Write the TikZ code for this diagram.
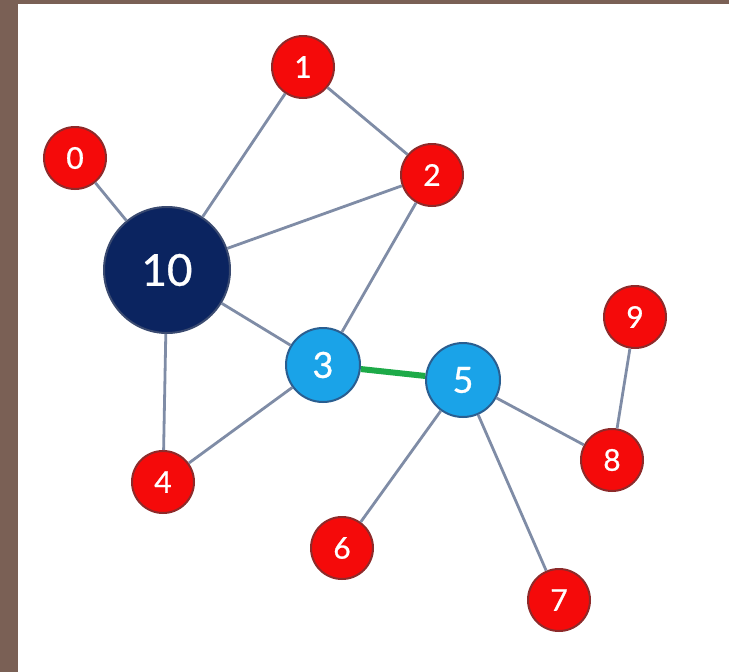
\documentclass[tikz,border=0pt]{standalone}
\usepackage{fontspec}
\setmainfont{Lato}
\newfontfamily\labelfont{Lato}[FakeBold=0.8]
\definecolor{bgbrown}{HTML}{7A6055}
\definecolor{nodered}{HTML}{F50A0A}
\definecolor{redborder}{HTML}{8E2A2A}
\definecolor{nodeblue}{HTML}{1AA3E8}
\definecolor{blueborder}{HTML}{2A5E90}
\definecolor{navy}{HTML}{0B2460}
\definecolor{navyborder}{HTML}{3A4A70}
\definecolor{edgegray}{HTML}{7F8CA6}
\definecolor{edgegreen}{HTML}{1DAA48}
\tikzset{
  rednode/.style={circle, fill=nodered, draw=redborder, line width=2pt, minimum size=62pt, inner sep=0pt, text=white, font=\labelfont\fontsize{30}{30}\selectfont},
  bluenode/.style={circle, fill=nodeblue, draw=blueborder, line width=2pt, minimum size=74pt, inner sep=0pt, text=white, font=\labelfont\fontsize{36}{36}\selectfont},
  bignode/.style={circle, fill=navy, draw=navyborder, line width=2pt, minimum size=126pt, inner sep=0pt, text=white, font=\labelfont\fontsize{44}{44}\selectfont},
  edge/.style={draw=edgegray, line width=2.8pt},
  greenedge/.style={draw=edgegreen, line width=6pt}
}
\begin{document}
\begin{tikzpicture}[x=1pt,y=-1pt]
\useasboundingbox (0,0) rectangle (729,672);
\fill[bgbrown] (0,0) rectangle (729,672);
\fill[white] (18,4) rectangle (729,672);
% nodes
\node[bignode] (n10) at (167,270) {10};
\node[rednode] (n0) at (75,158) {0};
\node[rednode] (n1) at (303,67) {1};
\node[rednode] (n2) at (432,175) {2};
\node[bluenode] (n3) at (323,365) {3};
\node[bluenode] (n5) at (463,380) {5};
\node[rednode] (n4) at (163,482) {4};
\node[rednode] (n6) at (342,548) {6};
\node[rednode] (n7) at (559,600) {7};
\node[rednode] (n8) at (612,460) {8};
\node[rednode] (n9) at (635,317) {9};
% edges
\path[edge] (n0) -- (n10);
\path[edge] (n1) -- (n10);
\path[edge] (n1) -- (n2);
\path[edge] (n2) -- (n10);
\path[edge] (n2) -- (n3);
\path[edge] (n10) -- (n3);
\path[edge] (n10) -- (n4);
\path[edge] (n3) -- (n4);
\path[greenedge] (n3) -- (n5);
\path[edge] (n5) -- (n6);
\path[edge] (n5) -- (n7);
\path[edge] (n5) -- (n8);
\path[edge] (n8) -- (n9);
\end{tikzpicture}
\end{document}
